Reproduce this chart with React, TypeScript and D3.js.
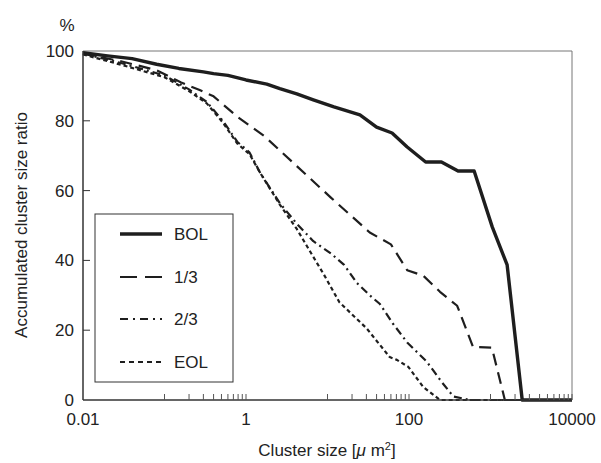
import React from "react";
import * as d3 from "d3";

const bolX = [0.01, 0.02, 0.04, 0.08, 0.15, 0.3, 0.4, 0.6, 1.0, 1.8, 2.6, 4.2, 6.7, 12, 25, 40, 62, 95, 160, 250, 400, 630, 1050, 1600, 2450, 10000];
const bolY = [99.5, 98.6, 97.8, 96.2, 95, 94, 93.5, 93, 91.7, 90.5, 89.2, 87.7, 86, 84, 81.7, 78.2, 76.5, 72.5, 68.2, 68.2, 65.6, 65.6, 49.6, 38.7, 0, 0];

const t13X = [0.01, 0.03, 0.08, 0.16, 0.27, 0.4, 0.8, 1.7, 4.2, 11, 33, 60, 95, 150, 240, 390, 610, 1040, 1500, 10000];
const t13Y = [99.3, 97, 94.5, 91, 88.8, 87, 81, 75.5, 67, 58, 48, 44.6, 37.2, 35.6, 31, 27, 15.2, 15, 0, 0];

const t23X = [0.01, 0.03, 0.1, 0.2, 0.33, 0.52, 0.78, 1.1, 1.5, 2.6, 4.2, 6.7, 11, 16, 23, 33, 44, 63, 95, 165, 255, 350, 560, 10000];
const t23Y = [99.3, 96.5, 93, 89, 85.4, 80, 74, 71, 65, 56.4, 50.5, 45.5, 42, 38.7, 33.5, 30, 27.5, 22, 16.5, 11, 5, 1, 0, 0];

const eolX = [0.01, 0.03, 0.1, 0.2, 0.33, 0.52, 0.78, 1.1, 1.5, 2.6, 4.2, 6.7, 9, 14, 30, 58, 71, 98, 150, 240, 10000];
const eolY = [99, 96, 92.5, 88.5, 85, 79.5, 73.5, 70.5, 65, 56, 49, 41, 36, 28, 20.6, 12.3, 11.5, 9.5, 3.7, 0, 0];

const seriesNames = ["BOL", "1/3", "2/3", "EOL"];
const yTicks = [0, 20, 40, 60, 80, 100];
const xLabels = [0.01, 1, 100, 10000];
const xLabelText = ["0.01", "1", "100", "10000"];
const minorDecades = [-1, 1, 3];

const styles = [
  { width: 3.4, dash: "" },
  { width: 2.2, dash: "12 7" },
  { width: 2.2, dash: "8 4 2 4" },
  { width: 2.2, dash: "4 3" },
];

export default function App() {
  const x = d3.scaleLog().domain([0.01, 10000]).range([83, 572]);
  const y = d3.scaleLinear().domain([0, 100]).range([400, 51]);
  const line = d3
    .line<[number, number]>()
    .x((d) => x(d[0]))
    .y((d) => y(d[1]));

  const data: [number, number][][] = [
    bolX.map((v, i) => [v, bolY[i]] as [number, number]),
    t13X.map((v, i) => [v, t13Y[i]] as [number, number]),
    t23X.map((v, i) => [v, t23Y[i]] as [number, number]),
    eolX.map((v, i) => [v, eolY[i]] as [number, number]),
  ];

  const minorTicks: number[] = [];
  minorDecades.forEach((k) => {
    for (let m = 1; m <= 10; m++) minorTicks.push(m * Math.pow(10, k));
  });

  const font = "'Liberation Sans', Arial, sans-serif";
  const ink = "#1e1e1e";
  const fs = 17;

  const legendRows = [234, 277, 319, 362];

  return (
    <svg
      width={601}
      height={463}
      style={{ position: "absolute", left: 0, top: 0, background: "#fff" }}
      fontFamily={font}
    >
      <rect x={0} y={0} width={601} height={463} fill="#fff" />
      <line x1={83} y1={51} x2={572} y2={51} stroke="#777" strokeWidth={1} />
      <line x1={572} y1={51} x2={572} y2={400} stroke="#777" strokeWidth={1} />
      {data.map((d, i) => (
        <path
          key={i}
          d={line(d) || ""}
          fill="none"
          stroke={ink}
          strokeWidth={styles[i].width}
          strokeDasharray={styles[i].dash}
          strokeLinejoin="round"
        />
      ))}
      <line x1={83} y1={400} x2={572} y2={400} stroke="#333" strokeWidth={1.5} />
      <line x1={83} y1={51} x2={83} y2={400} stroke="#333" strokeWidth={1.5} />
      {yTicks.map((t) => (
        <g key={t}>
          {t > 0 && t < 100 && (
            <line x1={83} x2={90} y1={y(t)} y2={y(t)} stroke="#333" strokeWidth={1} />
          )}
          <text x={74} y={y(t) + 6} textAnchor="end" fontSize={fs} fill="#222">
            {t}
          </text>
        </g>
      ))}
      {minorTicks.map((t, i) => (
        <line key={i} x1={x(t)} x2={x(t)} y1={400} y2={394} stroke="#555" strokeWidth={1} />
      ))}
      {xLabels.map((t, i) => (
        <text key={t} x={x(t)} y={425} textAnchor="middle" fontSize={fs} fill="#222">
          {xLabelText[i]}
        </text>
      ))}
      <text x={67} y={31} textAnchor="middle" fontSize={fs} fill="#222">
        %
      </text>
      <text x={327} y={456} textAnchor="middle" fontSize={fs} fill="#222">
        Cluster size [
        <tspan fontStyle="italic">μ</tspan> m<tspan fontSize={11} dy={-6}>2</tspan>
        <tspan dy={6}>]</tspan>
      </text>
      <text
        transform="translate(27,225) rotate(-90)"
        textAnchor="middle"
        fontSize={fs}
        fill="#222"
      >
        Accumulated cluster size ratio
      </text>
      <rect x={95} y={214} width={138} height={168} fill="#fff" stroke="#333" strokeWidth={1} />
      {seriesNames.map((n, i) => (
        <g key={n}>
          <line
            x1={120}
            x2={162}
            y1={legendRows[i]}
            y2={legendRows[i]}
            stroke={ink}
            strokeWidth={i === 0 ? 3.5 : 2.2}
            strokeDasharray={i === 1 ? "17 8" : i === 2 ? "8 5 2 5" : i === 3 ? "5 4" : ""}
          />
          <text x={174} y={legendRows[i] + 6} fontSize={fs} fill="#222">
            {n}
          </text>
        </g>
      ))}
    </svg>
  );
}
